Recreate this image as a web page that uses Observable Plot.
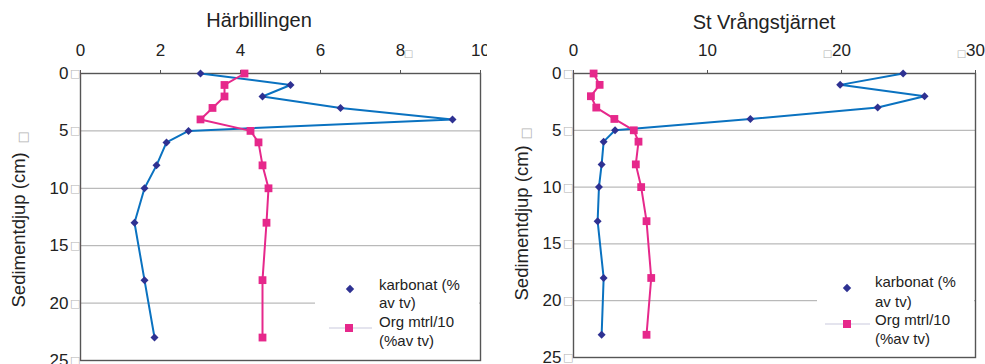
<!DOCTYPE html>
<html><head><meta charset="utf-8">
<script src="https://cdn.jsdelivr.net/npm/d3@7"></script>
<script src="https://cdn.jsdelivr.net/npm/@observablehq/plot@0.6"></script>
<style>
body{margin:0;background:#fff;font-family:"Liberation Sans",Arial,sans-serif;}
#wrap{position:relative;width:985px;height:364px;overflow:hidden;}
.chart{position:absolute;top:0;overflow:hidden;}
.chart svg{max-width:none !important;}
.title{position:absolute;font-size:20px;line-height:24px;color:#222;white-space:nowrap;transform:translateX(-50%);}
.legend{position:absolute;background:#fff;}
.legend .t{position:absolute;font-size:15px;line-height:18px;color:#222;white-space:nowrap;}
.legend svg{position:absolute;left:0;top:0;overflow:visible;}
</style></head><body><div id="wrap"></div>
<script>
// ---- data ----
const depth = [0, 1, 2, 3, 4, 5, 6, 8, 10, 13, 18, 23];
const harKarbonat = [3.0, 5.25, 4.55, 6.5, 9.3, 2.7, 2.15, 1.9, 1.6, 1.35, 1.6, 1.85];
const harOrg = [4.1, 3.6, 3.6, 3.3, 3.0, 4.25, 4.45, 4.55, 4.7, 4.65, 4.55, 4.55];
const vraKarbonat = [24.6, 19.9, 26.2, 22.7, 13.2, 3.1, 2.25, 2.1, 1.9, 1.8, 2.25, 2.1];
const vraOrg = [1.5, 1.95, 1.3, 1.7, 3.05, 4.5, 4.85, 4.65, 5.05, 5.45, 5.8, 5.45];
const leftXTicks = [0, 2, 4, 6, 8, 10];
const rightXTicks = [0, 10, 20, 30];
const leftBoxTicks = [8];        // tick labels followed by a missing-glyph box
const rightBoxTicks = [20, 30];  // tick labels preceded by a missing-glyph box
const yTicks = [0, 5, 10, 15, 20, 25];
const gridTicks = [5, 10, 15, 20];
const titles = ["Härbillingen", "St Vrångstjärnet"];
const yLabel = "Sedimentdjup (cm)";
const legendKarbonat = ["karbonat (%", "av tv)"];
const legendOrg = ["Org mtrl/10", "(%av tv)"];

const BLUE = "#0a72c0", NAVY = "#2e3192", PINK = "#e6288b", BOX = "#b4b4b4";

function makeChart({kar, org, xDomain, xTicks, boxTicks, boxDx, width, marginLeft, marginRight, marginBottom, labelDx, labelDy, boxLabelDx, boxLabelDy}) {
  const rows = depth.map((d, i) => ({depth: d, kar: kar[i], org: org[i]}));
  return Plot.plot({
    width, height: 364, marginLeft, marginRight, marginTop: 73, marginBottom,
    style: {fontFamily: "Liberation Sans, Arial, sans-serif", fontSize: "17px", color: "#222", background: "transparent", maxWidth: "none"},
    x: {domain: xDomain},
    y: {domain: [0, 25], reverse: true},
    marks: [
      Plot.ruleY(gridTicks, {stroke: "#a9a9a9", strokeWidth: 1}),
      Plot.frame({stroke: "#555", strokeWidth: 1.4}),
      Plot.axisX({anchor: "top", ticks: xTicks, tickSize: 4, tickPadding: 14, label: null, fontSize: 17, stroke: "#555"}),
      Plot.text(boxTicks, {x: d => d, frameAnchor: "top", text: () => "□", dx: boxDx, dy: -24, fill: BOX, fontSize: 10, fontFamily: "DejaVu Sans"}),
      Plot.axisY({ticks: yTicks, tickSize: 0, tickPadding: 12, label: null, fontSize: 17}),
      Plot.text(yTicks, {y: d => d, frameAnchor: "left", text: () => "□", textAnchor: "end", dx: 0, fill: BOX, fontSize: 11, fontFamily: "DejaVu Sans"}),
      Plot.text([yLabel], {frameAnchor: "bottom-left", text: d => d, rotate: -90, textAnchor: "start", dx: labelDx, dy: labelDy, fontSize: 18.5}),
      Plot.text(["□"], {frameAnchor: "top-left", text: d => d, rotate: -90, dx: boxLabelDx, dy: boxLabelDy, fontSize: 13, fill: BOX, fontFamily: "DejaVu Sans"}),
      Plot.line(rows, {x: "kar", y: "depth", stroke: BLUE, strokeWidth: 2}),
      Plot.dot(rows, {x: "kar", y: "depth", symbol: "diamond2", fill: NAVY, stroke: null, r: 3.6}),
      Plot.line(rows, {x: "org", y: "depth", stroke: PINK, strokeWidth: 2}),
      Plot.dot(rows, {x: "org", y: "depth", symbol: "square", fill: PINK, stroke: null, r: 4.4})
    ]
  });
}

const wrap = document.getElementById("wrap");
function place(el, left, w) { const d = document.createElement("div"); d.className = "chart"; d.style.left = left + "px"; d.style.width = w + "px"; d.style.height = "364px"; d.appendChild(el); wrap.appendChild(d); }
place(makeChart({kar: harKarbonat, org: harOrg, xDomain: [0, 10], xTicks: leftXTicks, boxTicks: leftBoxTicks, boxDx: 8,
  width: 492, marginLeft: 80, marginRight: 12, marginBottom: 4, labelDx: -56, labelDy: -53, boxLabelDx: -63, boxLabelDy: 70}), 0, 487);
place(makeChart({kar: vraKarbonat, org: vraOrg, xDomain: [0, 30], xTicks: rightXTicks, boxTicks: rightBoxTicks, boxDx: -14,
  width: 495, marginLeft: 83, marginRight: 10, marginBottom: 7, labelDx: -46, labelDy: -57, boxLabelDx: -53, boxLabelDy: 66}), 490, 495);

function title(text, cx, top) {
  const d = document.createElement("div"); d.className = "title"; d.textContent = text;
  d.style.left = cx + "px"; d.style.top = top + "px"; wrap.appendChild(d);
}
title(titles[0], 259, 8);
title(titles[1], 764, 10);

function legend({left, top, w, h, dia, sq, lineX, textX, textY}) {
  const d = document.createElement("div"); d.className = "legend";
  Object.assign(d.style, {left: left + "px", top: top + "px", width: w + "px", height: h + "px"});
  const s = 4.2;
  d.innerHTML = `<svg width="${w}" height="${h}">
    <path d="M${dia[0]},${dia[1]-s}L${dia[0]+s},${dia[1]}L${dia[0]},${dia[1]+s}L${dia[0]-s},${dia[1]}Z" fill="${NAVY}"/>
    <line x1="${lineX[0]}" x2="${lineX[1]}" y1="${sq[1]}" y2="${sq[1]}" stroke="#c9c9de" stroke-width="1.2"/>
    <rect x="${sq[0]-4}" y="${sq[1]-4}" width="8" height="8" fill="${PINK}"/></svg>`;
  const lines = [...legendKarbonat, ...legendOrg];
  lines.forEach((t, i) => {
    const e = document.createElement("div"); e.className = "t"; e.textContent = t;
    e.style.left = textX + "px"; e.style.top = (textY[i] - 9) + "px"; d.appendChild(e);
  });
  wrap.appendChild(d);
}
legend({left: 315, top: 262, w: 164, h: 97, dia: [35, 27], sq: [34, 66], lineX: [14, 57], textX: 64, textY: [23, 41, 60, 79]});
legend({left: 817, top: 262, w: 157, h: 94, dia: [30, 26], sq: [30, 62], lineX: [8, 53], textX: 58, textY: [20, 40, 58, 77]});
</script></body></html>
